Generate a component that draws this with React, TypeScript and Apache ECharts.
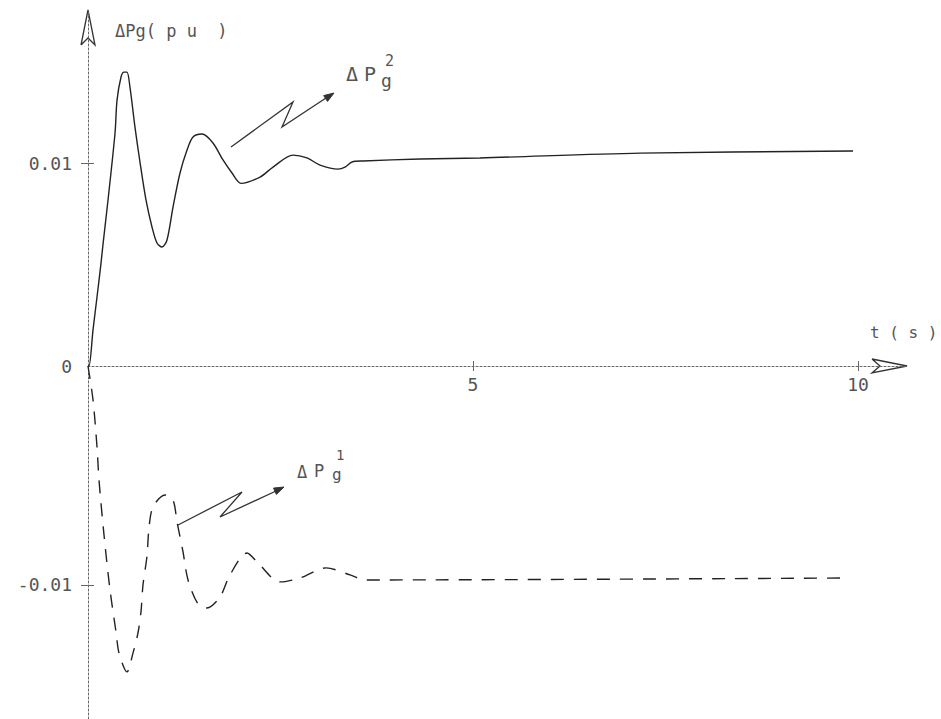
import React, { useEffect, useRef } from "react";
import * as echarts from "echarts";

// ΔPg² (solid) — time (s) and value (pu)
const solidT = [0, 0.013, 0.065, 0.117, 0.169, 0.195, 0.26, 0.351, 0.377, 0.429, 0.468, 0.506, 0.545, 0.61, 0.675, 0.753, 0.831, 0.896, 0.961, 1.026, 1.104, 1.195, 1.286, 1.364, 1.481, 1.623, 1.753, 1.87, 1.987, 2.234, 2.403, 2.662, 2.844, 3.013, 3.247, 3.338, 3.429, 3.571, 4.312, 5.091, 7.169, 9.935];
const solidV = [0, 0, 0.00177, 0.0034, 0.00507, 0.006, 0.00818, 0.01148, 0.0131, 0.01424, 0.01448, 0.01448, 0.01374, 0.01177, 0.01005, 0.00818, 0.00685, 0.00606, 0.00586, 0.00621, 0.00783, 0.00951, 0.01064, 0.01128, 0.01143, 0.01099, 0.01015, 0.00951, 0.009, 0.00931, 0.0098, 0.01039, 0.01025, 0.0099, 0.0097, 0.0098, 0.01005, 0.0101, 0.0102, 0.01025, 0.01049, 0.01059];

// ΔPg¹ (dashed)
const dashT = [0, 0.065, 0.117, 0.143, 0.208, 0.286, 0.364, 0.403, 0.506, 0.584, 0.649, 0.688, 0.714, 0.766, 0.792, 0.844, 1.0, 1.104, 1.156, 1.234, 1.299, 1.429, 1.545, 1.714, 1.844, 2.065, 2.208, 2.494, 2.753, 3.091, 3.403, 3.597, 9.857];
const dashV = [0, -0.00155, -0.0037, -0.00521, -0.00772, -0.01023, -0.01215, -0.01311, -0.01397, -0.01311, -0.01219, -0.01123, -0.01, -0.00868, -0.0074, -0.00644, -0.00589, -0.00612, -0.00712, -0.00849, -0.00977, -0.01087, -0.01105, -0.01055, -0.00954, -0.00854, -0.009, -0.00986, -0.00968, -0.00922, -0.00954, -0.00977, -0.00968];

const xTicks = [5, 10];
const yTicksUpper = [0.01];
const yLabelsUpper = [0, 0.01];
const yTicksLower = [-0.01];

const FONT = '"DejaVu Sans Mono", monospace';
const TXT = "#555";
const AX = "#666";
const LINE = "#222";

function txt(text: string, x: number, y: number, size: number, lineHeight?: number) {
  return {
    type: "text",
    x,
    y,
    silent: true,
    style: {
      text,
      font: `${size}px ${FONT}`,
      fill: TXT,
      align: "left",
      verticalAlign: "middle",
      textAlign: "left",
      textVerticalAlign: "middle",
      lineHeight: lineHeight || size,
    },
  };
}

function poly(points: number[][], closed = false) {
  return {
    type: closed ? "polygon" : "polyline",
    silent: true,
    shape: { points },
    style: closed
      ? { fill: "#333", stroke: "#333", lineWidth: 1 }
      : { fill: null, stroke: "#333", lineWidth: 1.3 },
  };
}

export default function App() {
  const ref = useRef<HTMLDivElement>(null);
  useEffect(() => {
    if (!ref.current) return;
    const chart = echarts.init(ref.current, null, { renderer: "svg" });
    const xMax = 10.636;
    const upperMax = 0.01754;
    const lowerMin = -0.01612;
    const axisLineStyle = { color: AX, width: 1, type: [2, 2] };
    const option = {
      animation: false,
      backgroundColor: "#ffffff",
      grid: [
        { left: 88, top: 10, width: 819, height: 356 },
        { left: 88, top: 366, width: 819, height: 353 },
      ],
      xAxis: [
        {
          gridIndex: 0,
          type: "value",
          min: 0,
          max: xMax,
          position: "bottom",
          axisLine: { show: true, onZero: false, lineStyle: axisLineStyle },
          axisTick: { show: true, customValues: xTicks, length: 5, lineStyle: { color: AX } },
          axisLabel: { show: true, customValues: xTicks, margin: 9, fontSize: 18, fontFamily: FONT, color: TXT },
          splitLine: { show: false },
        },
        {
          gridIndex: 1,
          type: "value",
          min: 0,
          max: xMax,
          position: "top",
          axisLine: { show: false, onZero: false },
          axisTick: { show: true, customValues: xTicks, length: 5, lineStyle: { color: AX } },
          axisLabel: { show: false },
          splitLine: { show: false },
        },
      ],
      yAxis: [
        {
          gridIndex: 0,
          type: "value",
          min: 0,
          max: upperMax,
          position: "left",
          axisLine: { show: true, onZero: false, lineStyle: axisLineStyle },
          axisTick: { show: true, customValues: yTicksUpper, length: 7, lineStyle: { color: AX } },
          axisLabel: { show: true, customValues: yLabelsUpper, margin: 16, fontSize: 18, fontFamily: FONT, color: TXT, formatter: (v: number) => (v === 0 ? "0" : v.toFixed(2)) },
          splitLine: { show: false },
        },
        {
          gridIndex: 0,
          type: "value",
          min: 0,
          max: upperMax,
          position: "left",
          axisLine: { show: false, onZero: false },
          axisTick: { show: true, inside: true, customValues: yTicksUpper, length: 6, lineStyle: { color: AX } },
          axisLabel: { show: false },
          splitLine: { show: false },
        },
        {
          gridIndex: 1,
          type: "value",
          min: lowerMin,
          max: 0,
          position: "left",
          axisLine: { show: true, onZero: false, lineStyle: axisLineStyle },
          axisTick: { show: true, customValues: yTicksLower, length: 7, lineStyle: { color: AX } },
          axisLabel: { show: true, customValues: yTicksLower, margin: 16, fontSize: 18, fontFamily: FONT, color: TXT, formatter: (v: number) => v.toFixed(2) },
          splitLine: { show: false },
        },
        {
          gridIndex: 1,
          type: "value",
          min: lowerMin,
          max: 0,
          position: "left",
          axisLine: { show: false, onZero: false },
          axisTick: { show: true, inside: true, customValues: yTicksLower, length: 6, lineStyle: { color: AX } },
          axisLabel: { show: false },
          splitLine: { show: false },
        },
      ],
      series: [
        {
          name: "ΔPg2",
          type: "line",
          xAxisIndex: 0,
          yAxisIndex: 0,
          data: solidT.map((t, i) => [t, solidV[i]]),
          showSymbol: false,
          smooth: 0.3,
          silent: true,
          lineStyle: { color: LINE, width: 1.4 },
        },
        {
          name: "ΔPg1",
          type: "line",
          xAxisIndex: 1,
          yAxisIndex: 2,
          data: dashT.map((t, i) => [t, dashV[i]]),
          showSymbol: false,
          smooth: 0.3,
          silent: true,
          lineStyle: { color: LINE, width: 1.4, type: [13, 10] },
        },
      ],
      graphic: [
        // axis arrows
        poly([[81, 45], [88, 10], [95, 45], [88, 38], [81, 45]]),
        poly([[872, 359], [907, 366], [872, 373], [880, 366], [872, 359]]),
        // axis names
        txt("ΔPg( p u  )", 115, 31, 17),
        txt("t ( s )", 870, 332, 16),
        // ΔPg² annotation
        poly([[231, 147], [293, 102], [282, 127], [326, 98]]),
        poly([[334, 93], [327.5, 101.4], [323.7, 95.6]], true),
        txt("Δ", 346, 74, 20),
        txt("P", 364, 74, 20),
        txt("g", 381, 80, 18),
        txt("2", 385, 61, 15),
        // ΔPg¹ annotation
        poly([[178, 525], [242, 492], [220, 517], [276, 491]]),
        poly([[284, 487], [276.4, 494.4], [273.5, 488.1]], true),
        txt("Δ", 297, 472, 17),
        txt("P", 314, 471, 17),
        txt("g", 332, 474, 16),
        txt("1", 336, 455, 14),
      ],
    };
    chart.setOption(option as any);
    return () => chart.dispose();
  }, []);
  return <div ref={ref} style={{ position: "absolute", left: 0, top: 0, width: 941, height: 719 }} />;
}
